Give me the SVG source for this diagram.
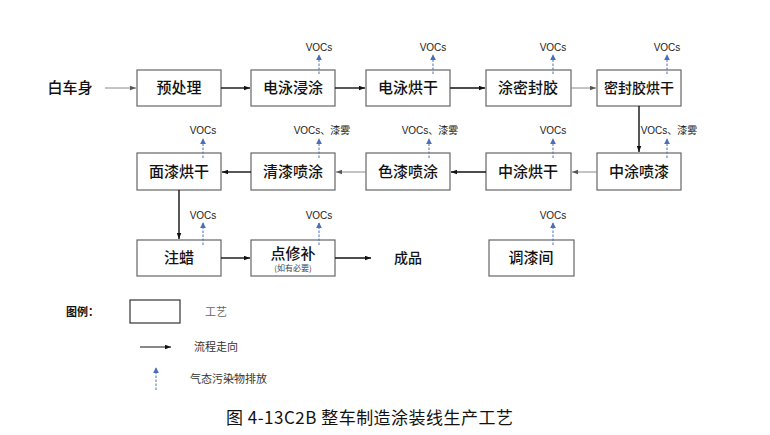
<svg xmlns="http://www.w3.org/2000/svg" width="770" height="435" viewBox="0 0 770 435">
<defs>
<marker id="ah" viewBox="0 0 8 6" refX="8" refY="3" markerWidth="6" markerHeight="5" orient="auto" markerUnits="userSpaceOnUse">
<path d="M0,0 L8,3 L0,6 z" fill="#111"/>
</marker>
<marker id="ahg" viewBox="0 0 8 6" refX="8" refY="3" markerWidth="6" markerHeight="5" orient="auto" markerUnits="userSpaceOnUse">
<path d="M0,0 L8,3 L0,6 z" fill="#555"/>
</marker>
<marker id="ahb" viewBox="0 0 8 8" refX="7" refY="4" markerWidth="6" markerHeight="6" orient="auto" markerUnits="userSpaceOnUse">
<path d="M0,0 L8,4 L0,8 z" fill="#4a6fb5"/>
</marker>
</defs>
<style>
.box{fill:#fff;stroke:#666;stroke-width:1.2}
.lbl{font-family:"Noto Sans CJK SC","Noto Sans",sans-serif;font-size:15px;font-weight:500;fill:#111;text-anchor:middle}
.voc{font-family:"Liberation Sans","Noto Sans CJK SC",sans-serif;font-size:10px;fill:#222;text-anchor:middle}
.flow{stroke:#111;stroke-width:1.4;fill:none;marker-end:url(#ah)}
.flowg{stroke:#888;stroke-width:1;fill:none;marker-end:url(#ahg)}
.emit{stroke:#4a6fb5;stroke-width:1;stroke-dasharray:2.5,1.5;fill:none;marker-end:url(#ahb)}
.leg{font-family:"Noto Sans CJK SC",sans-serif;font-size:11px;fill:#333}
</style>
<rect width="770" height="435" fill="#fff"/>

<text x="70" y="93" class="lbl">白车身</text>

<g id="n1"><rect class="box" x="137" y="70" width="84" height="36"/><text x="179" y="93" class="lbl">预处理</text></g>
<g id="n2"><rect class="box" x="251" y="70" width="84" height="36"/><text x="293" y="93" class="lbl">电泳浸涂</text></g>
<g id="n3"><rect class="box" x="366" y="70" width="84" height="36"/><text x="408" y="93" class="lbl">电泳烘干</text></g>
<g id="n4"><rect class="box" x="486" y="70" width="85" height="36"/><text x="528" y="93" class="lbl">涂密封胶</text></g>
<g id="n5"><rect class="box" x="597" y="70" width="84" height="36"/><text x="639" y="93" class="lbl" style="font-size:14px">密封胶烘干</text></g>

<g id="n6"><rect class="box" x="597" y="153" width="84" height="37"/><text x="639" y="177" class="lbl">中涂喷漆</text></g>
<g id="n7"><rect class="box" x="486" y="153" width="85" height="37"/><text x="528" y="177" class="lbl">中涂烘干</text></g>
<g id="n8"><rect class="box" x="366" y="153" width="84" height="37"/><text x="408" y="177" class="lbl">色漆喷涂</text></g>
<g id="n9"><rect class="box" x="251" y="153" width="84" height="37"/><text x="293" y="177" class="lbl">清漆喷涂</text></g>
<g id="n10"><rect class="box" x="137" y="153" width="84" height="37"/><text x="179" y="177" class="lbl">面漆烘干</text></g>

<g id="n11"><rect class="box" x="137" y="240" width="84" height="36"/><text x="179" y="263" class="lbl">注蜡</text></g>
<g id="n12"><rect class="box" x="251" y="240" width="84" height="36"/><text x="293" y="259" class="lbl">点修补</text><text x="293" y="271" class="lbl" style="font-size:8px;font-weight:normal;fill:#444">(如有必要)</text></g>
<text x="408" y="263" class="lbl" style="font-size:14px">成品</text>
<g id="n13"><rect class="box" x="489" y="240" width="85" height="36"/><text x="531" y="263" class="lbl">调漆间</text></g>

<g id="connectors">
<line class="flowg" x1="105" y1="88" x2="136" y2="88"/>
<line class="flow" x1="221" y1="88" x2="250" y2="88"/>
<line class="flow" x1="335" y1="88" x2="365" y2="88"/>
<line class="flow" x1="450" y1="88" x2="485" y2="88"/>
<line class="flowg" x1="571" y1="88" x2="596" y2="88"/>
<line class="flow" x1="639" y1="106" x2="639" y2="152"/>
<line class="flowg" x1="597" y1="172" x2="572" y2="172"/>
<line class="flow" x1="486" y1="172" x2="451" y2="172"/>
<line class="flowg" x1="366" y1="172" x2="336" y2="172"/>
<line class="flow" x1="251" y1="172" x2="222" y2="172"/>
<line class="flow" x1="179" y1="190" x2="179" y2="239"/>
<line class="flow" x1="221" y1="258" x2="250" y2="258"/>
<line class="flow" x1="335" y1="258" x2="371" y2="258"/>

<line class="emit" x1="319" y1="74" x2="319" y2="55"/>
<line class="emit" x1="433" y1="74" x2="433" y2="55"/>
<line class="emit" x1="553" y1="74" x2="553" y2="55"/>
<line class="emit" x1="667" y1="74" x2="667" y2="55"/>
<line class="emit" x1="203" y1="158" x2="203" y2="139"/>
<line class="emit" x1="319" y1="158" x2="319" y2="139"/>
<line class="emit" x1="429" y1="158" x2="429" y2="139"/>
<line class="emit" x1="553" y1="158" x2="553" y2="139"/>
<line class="emit" x1="667" y1="158" x2="667" y2="139"/>
<line class="emit" x1="203" y1="245" x2="203" y2="223"/>
<line class="emit" x1="319" y1="245" x2="319" y2="223"/>
<line class="emit" x1="553" y1="245" x2="553" y2="223"/>
</g>

<text x="319" y="51" class="voc">VOCs</text>
<text x="433" y="51" class="voc">VOCs</text>
<text x="553" y="51" class="voc">VOCs</text>
<text x="667" y="51" class="voc">VOCs</text>
<text x="203" y="134" class="voc">VOCs</text>
<text x="322" y="134" class="voc">VOCs、漆雾</text>
<text x="430" y="134" class="voc">VOCs、漆雾</text>
<text x="553" y="134" class="voc">VOCs</text>
<text x="669" y="134" class="voc">VOCs、漆雾</text>
<text x="203" y="219" class="voc">VOCs</text>
<text x="319" y="219" class="voc">VOCs</text>
<text x="553" y="219" class="voc">VOCs</text>

<g id="legend">
<text x="66" y="316" class="leg" style="font-weight:bold;fill:#111">图例：</text>
<rect x="130" y="300" width="50" height="23" fill="#fff" stroke="#333" stroke-width="1.2"/>
<text x="205" y="316" class="leg" style="fill:#666">工艺</text>
<line class="flow" x1="140" y1="347" x2="171" y2="347" style="stroke-width:1"/>
<text x="194" y="351" class="leg">流程走向</text>
<line class="emit" x1="156" y1="390" x2="156" y2="368"/>
<text x="190" y="383" class="leg">气态污染物排放</text>
</g>

<text x="226" y="424" style="font-family:'Noto Sans CJK SC',sans-serif;font-size:17px;fill:#111" textLength="287">图 4-13C2B 整车制造涂装线生产工艺</text>
</svg>
